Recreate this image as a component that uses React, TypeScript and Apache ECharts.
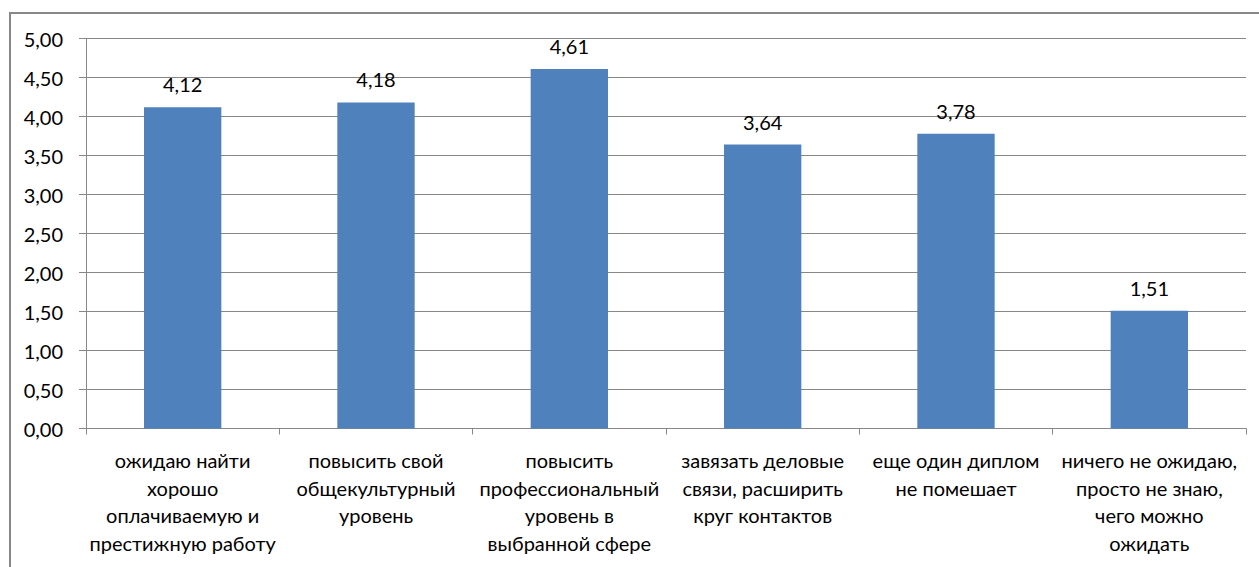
import React, { useEffect, useRef } from "react";
import * as echarts from "echarts";

const categories: string[] = [
  "ожидаю найти\nхорошо\nоплачиваемую и\nпрестижную работу",
  "повысить свой\nобщекультурный\nуровень",
  "повысить\nпрофессиональный\nуровень в\nвыбранной сфере",
  "завязать деловые\nсвязи, расширить\nкруг контактов",
  "еще один диплом\nне помешает",
  "ничего не ожидаю,\nпросто не знаю,\nчего можно\nожидать",
];

const values: number[] = [4.12, 4.18, 4.61, 3.64, 3.78, 1.51];

const yMin = 0;
const yMax = 5;
const yStep = 0.5;

const fmt = (v: number) => v.toFixed(2).replace(".", ",");

const FONT = "Lato, 'Open Sans', sans-serif";
const GRAY = "#878787";
const FS = 20;

export default function App() {
  const ref = useRef<HTMLDivElement>(null);

  useEffect(() => {
    if (!ref.current) return;
    const chart = echarts.init(ref.current, undefined, { renderer: "svg" });
    chart.setOption({
      animation: false,
      backgroundColor: "#ffffff",
      textStyle: { fontFamily: FONT },
      graphic: [
        {
          type: "rect",
          shape: { x: 10, y: 13, width: 1300, height: 600 },
          style: { fill: "none", stroke: GRAY, lineWidth: 2 },
          silent: true,
        },
      ],
      grid: { left: 86, right: 13, top: 38.5, bottom: 138.5 },
      xAxis: {
        type: "category",
        data: categories,
        axisLine: { show: true, lineStyle: { color: GRAY, width: 1 } },
        axisTick: { show: true, length: 6, alignWithLabel: false, lineStyle: { color: GRAY } },
        axisLabel: {
          interval: 0,
          margin: 17.5,
          color: "#000",
          fontSize: FS,
          lineHeight: 27.7,
          fontFamily: FONT,
          align: "center",
          verticalAlign: "top",
        },
      },
      yAxis: {
        type: "value",
        min: yMin,
        max: yMax,
        interval: yStep,
        axisLine: { show: true, lineStyle: { color: GRAY, width: 1 } },
        axisTick: { show: true, length: 7, lineStyle: { color: GRAY } },
        splitLine: { show: true, lineStyle: { color: GRAY, width: 1 } },
        axisLabel: {
          formatter: (v: number) => fmt(v),
          color: "#000",
          fontSize: FS,
          margin: 23,
          fontFamily: FONT,
        },
      },
      series: [
        {
          type: "bar",
          data: values,
          barWidth: "40%",
          itemStyle: { color: "#4F81BD" },
          label: {
            show: true,
            position: "top",
            distance: 13,
            color: "#000",
            fontSize: FS,
            fontFamily: FONT,
            formatter: (p: any) => fmt(p.value),
          },
        },
      ],
    });
    return () => chart.dispose();
  }, []);

  return (
    <div
      ref={ref}
      style={{ position: "fixed", left: 0, top: 0, width: 1259, height: 567 }}
    />
  );
}
